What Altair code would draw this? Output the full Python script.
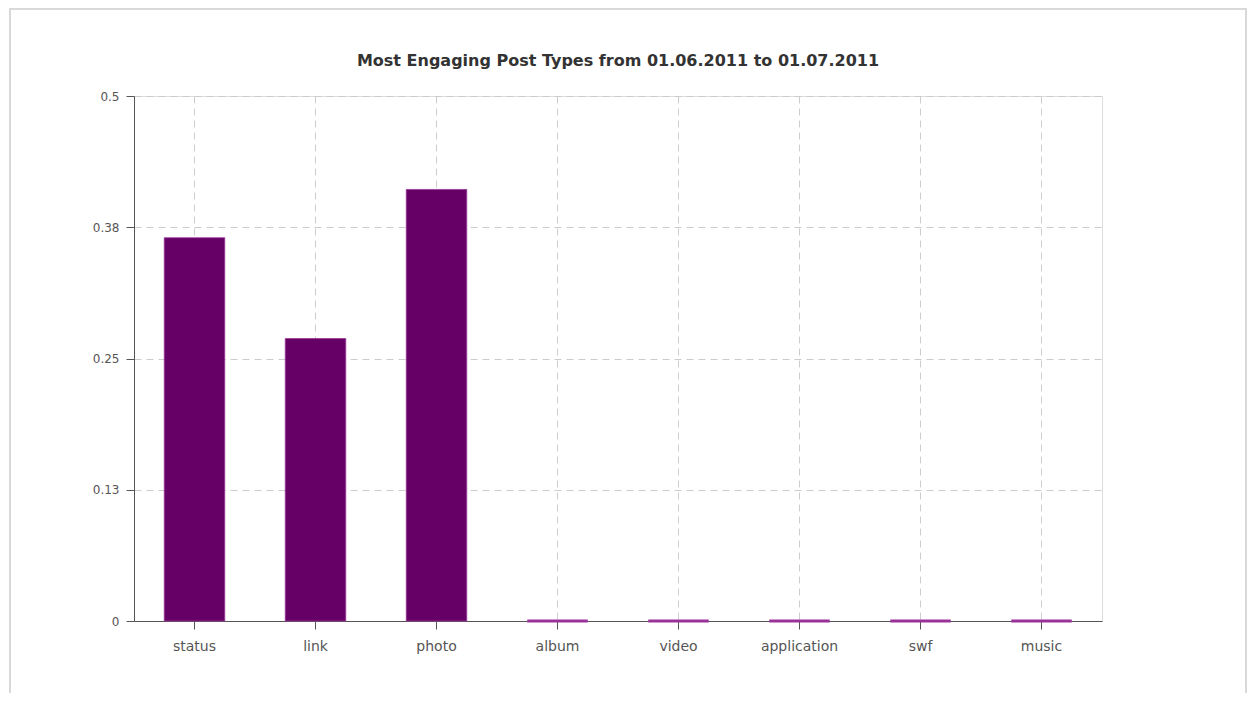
import altair as alt
import pandas as pd

categories = ["status", "link", "photo", "album", "video", "application", "swf", "music"]
values = [0.365, 0.269, 0.411, 0.0, 0.0, 0.0, 0.0, 0.0]
y_ticks = [0, 0.125, 0.25, 0.375, 0.5]
title_text = "Most Engaging Post Types from 01.06.2011 to 01.07.2011"

df = pd.DataFrame({"type": categories, "value": values})

FONT = "DejaVu Sans"

bars = alt.Chart(df).mark_bar(color="#660066", stroke="#993399").encode(
    x=alt.X(
        "type:N",
        sort=categories,
        scale=alt.Scale(paddingInner=0.5, paddingOuter=0.25),
        axis=alt.Axis(
            title=None,
            labelAngle=0,
            grid=True,
            gridDash=[7, 5],
            gridColor="#cccccc",
            domainColor="#555555",
            tickColor="#555555",
            tickSize=8,
            labelPadding=10,
            labelColor="#555555",
            labelFont=FONT,
            labelFontSize=14,
        ),
    ),
    y=alt.Y(
        "value:Q",
        scale=alt.Scale(domain=[0, 0.5], nice=False),
        axis=alt.Axis(
            title=None,
            values=y_ticks,
            format=".2~f",
            grid=True,
            gridDash=[7, 5],
            gridColor="#cccccc",
            domainColor="#555555",
            tickColor="#555555",
            tickSize=8,
            labelPadding=7,
            labelColor="#555555",
            labelFont=FONT,
            labelFontSize=12,
        ),
    ),
    strokeWidth=alt.condition("datum.value == 0", alt.value(3), alt.value(0.8)),
)

frame = alt.Chart(alt.Data(values=[{"k": 0}])).mark_rect(
    fill=None, stroke="#d9d9d9", strokeWidth=2
).encode(
    x=alt.value(-124), x2=alt.value(1112), y=alt.value(-87), y2=alt.value(620)
)

chart = alt.layer(frame, bars).properties(
    width=968,
    height=525,
    padding={"left": 126, "top": 88, "right": 145, "bottom": 72},
    autosize=alt.AutoSizeParams(type="none"),
    title=alt.TitleParams(
        title_text,
        font=FONT,
        fontSize=16,
        fontWeight="bold",
        color="#333333",
        anchor="middle",
        frame="group",
        offset=-61,
    ),
).configure_view(
    fill="#fafafa", stroke="#dddddd"
).configure(background="white")

chart.save("out.html", embed_options={"renderer": "svg", "actions": False})
